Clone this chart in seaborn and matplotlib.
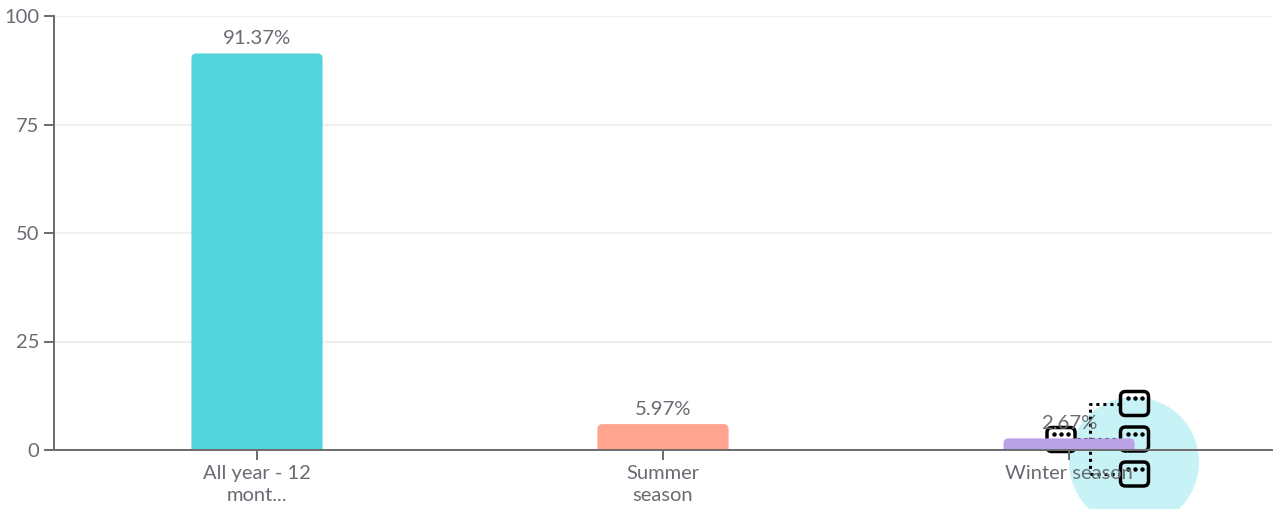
import matplotlib
matplotlib.use("Agg")
import matplotlib.pyplot as plt
import seaborn as sns
import pandas as pd
from matplotlib.patches import FancyBboxPatch, Circle
from matplotlib.transforms import Affine2D

categories = ["All year - 12\nmont...", "Summer\nseason", "Winter season"]
values = [91.37, 5.97, 2.67]
value_labels = ["91.37%", "5.97%", "2.67%"]
colors = ["#53d4db", "#ffa58f", "#b9a3e6"]
y_ticks = [0, 25, 50, 75, 100]

W, H = 1284, 509
TXT = "#686c72"
AX = "#6b6b6b"
FONT = "Lato"

sns.set_theme(style="white")
plt.rcParams["font.family"] = [FONT, "DejaVu Sans"]

fig = plt.figure(figsize=(W / 100, H / 100), dpi=100)
ax = fig.add_axes([54 / W, 1 - 450 / H, (1272 - 54) / W, (450 - 16) / H])
ax.patch.set_alpha(0)

df = pd.DataFrame({"cat": categories, "val": values})
sns.barplot(data=df, x="cat", y="val", hue="cat", palette=colors, legend=False,
            width=0.323, dodge=False, ax=ax, saturation=1)
ax.set_xlim(-0.5, 2.5)
ax.set_ylim(0, 100)
ax.set_xlabel("")
ax.set_ylabel("")

# rounded tops: rebuild each seaborn bar with the same geometry
px_x = (1272 - 54) / 3
px_y = (450 - 16) / 100
radius_px = 5
for p, lab in zip(list(ax.patches), value_labels):
    x0, w, h, col = p.get_x(), p.get_width(), p.get_height(), p.get_facecolor()
    p.set_visible(False)
    ax.add_patch(FancyBboxPatch((x0, -3), w, h + 3,
                                boxstyle=f"round,pad=0,rounding_size={radius_px / px_x}",
                                mutation_aspect=px_x / px_y, fc=col, ec="none", zorder=4))
    ax.annotate(lab, (x0 + w / 2, h), xytext=(0, 4.3), textcoords="offset points",
                ha="center", va="bottom", fontsize=14.7, color=TXT, zorder=8)

ax.set_axisbelow(True)
ax.set_yticks(y_ticks)
ax.yaxis.grid(True, color="#f0f0f0", lw=1.6)
ax.xaxis.grid(False)
for s in ("top", "right"):
    ax.spines[s].set_visible(False)
for s in ("left", "bottom"):
    ax.spines[s].set_color(AX)
    ax.spines[s].set_linewidth(1.4)
    ax.spines[s].set_zorder(6)
ax.tick_params(axis="both", length=7.5, width=1.4, color=AX, labelcolor=TXT, labelsize=14.5,
               left=True, bottom=True, pad=3)
ax.tick_params(axis="x", pad=3.6)
for t in ax.get_xticklabels():
    t.set_linespacing(1.32)

# decorative icon, placed in figure pixels (origin top-left), behind the axis layer
pix = Affine2D().scale(1, -1).translate(0, H)
ax.add_patch(Circle((1134, 462), 65, transform=pix, fc="#c8f3f6", ec="none", zorder=0.1, clip_on=False))

icon_boxes = [(1134.5, 403.5), (1134.5, 439), (1134.5, 474), (1061, 439.5)]
for cx, cy in icon_boxes:
    ax.add_patch(FancyBboxPatch((cx - 14, cy - 12), 28, 24, transform=pix,
                                boxstyle="round,pad=0,rounding_size=5", fc="#ffffff" if cx < 1100 else "none",
                                ec="black", lw=2.5, zorder=0.3, clip_on=False))
    ax.plot([cx - 7, cx, cx + 7], [cy - 5.5, cy - 5.5, cy - 5.5], transform=pix, ls="none", marker="o",
            ms=2.2, color="black", zorder=0.3, clip_on=False)

icon_links = [([1120, 1090, 1090], [403.5, 403.5, 474]), ([1077, 1120], [439, 439]), ([1090, 1120], [474, 474])]
for xs, ys in icon_links:
    ax.plot(xs, ys, transform=pix, color="black", lw=2.2, ls=(0, (1, 1.3)), zorder=0.2, clip_on=False)

fig.savefig("out.png", dpi=100)
